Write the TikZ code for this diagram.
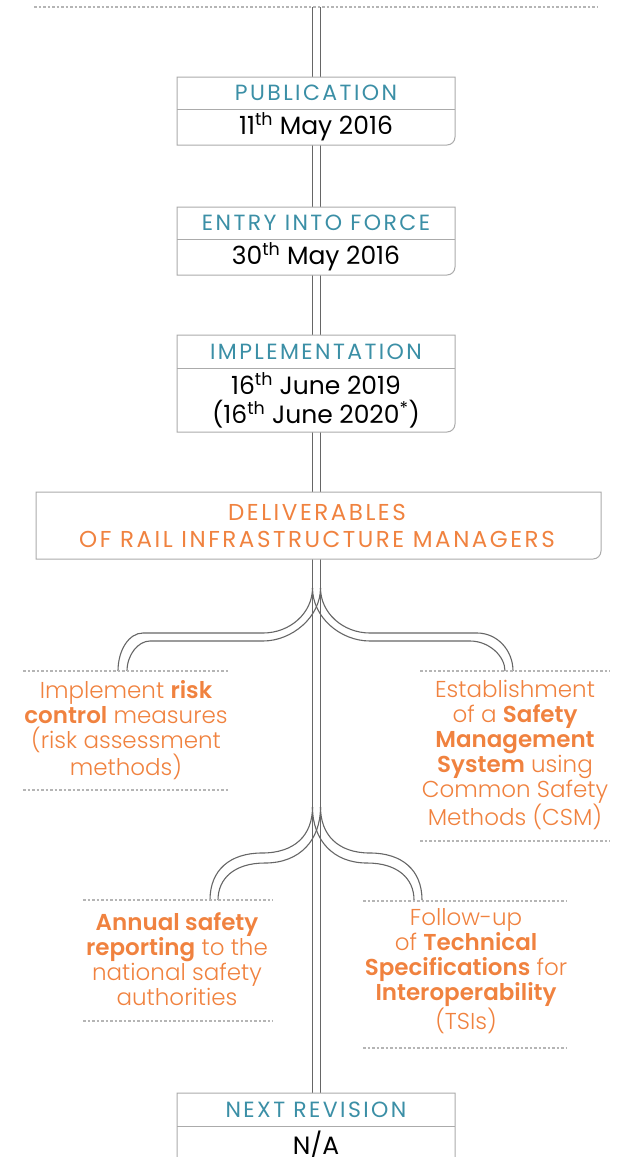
\documentclass[tikz,border=0pt]{standalone}
\usepackage{fontspec}
\setmainfont{Poppins}[UprightFont=* Light, BoldFont=* SemiBold]
\newfontfamily\regfont{Poppins}
\newfontfamily\headfont{Poppins}[LetterSpace=11]
\definecolor{hdcol}{HTML}{3B8FA6}
\definecolor{orcol}{HTML}{F0823F}
\definecolor{boxcol}{HTML}{ABABAB}
\definecolor{railcol}{HTML}{666666}
\definecolor{dashcol}{HTML}{B5B5B5}
\newcommand\tlbox[5]{%
  \filldraw[boxframe] (#1,#2) -- (#3,#2) -- (#3,#4-8) .. controls (#3,#4-3.6) and (#3-3.6,#4) .. (#3-8,#4) -- (#1,#4) -- cycle;
  \draw[boxframe] (#1,#5) -- (#3,#5);}
\tikzset{
  boxframe/.style={draw=boxcol, fill=white, line width=1pt},
  rail/.style={draw=railcol, line width=1.1pt},
  dotline/.style={draw=dashcol, line width=1.1pt, dash pattern=on 2.5pt off 2pt},
  headtxt/.style={text=hdcol, font=\headfont\fontsize{22}{25}\selectfont, inner sep=0pt},
  datetxt/.style={text=black, font=\regfont\fontsize{25}{29}\selectfont, align=center, inner sep=0pt},
  bodytxt/.style={text=orcol, font=\fontsize{23}{25}\selectfont, align=center, inner sep=0pt},
}
\begin{document}
\begin{tikzpicture}[x=1pt,y=-1pt]
\useasboundingbox (0,0) rectangle (618,1157);
\clip (0,0) rectangle (618,1157);
% top dotted line
\draw[dotline] (34,7) -- (598,7);
% main rails
\draw[rail] (312.5,7) -- (312.5,1160);
\draw[rail] (320.5,7) -- (320.5,1160);
% first branching, left
\draw[rail] (312.5,588) .. controls (312.5,613) and (290,633) .. (263,633) -- (143,633) .. controls (129,633) and (118,650) .. (118,671);
\draw[rail] (320.5,588) .. controls (320.5,617) and (292,641) .. (263,641) -- (150,641) .. controls (138,641) and (127,655) .. (127,671);
% first branching, right
\draw[rail] (320.5,588) .. controls (320.5,613) and (343,633) .. (370,633) -- (477,633) .. controls (497,633) and (513,650) .. (513,671);
\draw[rail] (312.5,588) .. controls (312.5,617) and (340,641) .. (370,641) -- (470,641) .. controls (489,641) and (505,656) .. (505,671);
% second branching, left
\draw[rail] (312.5,807) .. controls (312.5,835) and (295,853) .. (262,853) .. controls (230,853) and (210,870) .. (210,900);
\draw[rail] (320.5,807) .. controls (320.5,840) and (300,863) .. (265,863) .. controls (235,863) and (218,878) .. (218,900);
% second branching, right
\draw[rail] (320.5,807) .. controls (320.5,835) and (338,853) .. (370,853) .. controls (402,853) and (422,870) .. (422,900);
\draw[rail] (312.5,807) .. controls (312.5,840) and (333,863) .. (367,863) .. controls (397,863) and (414,878) .. (414,900);
% boxes
\tlbox{177}{77}{455}{145}{109}
\node[headtxt] (pubh) at (316,93) {PUBLICATION};
\node[datetxt] (pubd) at (316,127) {11\textsuperscript{th} May 2016};
\tlbox{177}{207}{455}{275}{239}
\node[headtxt] (enth) at (316,223) {ENTRY INTO FORCE};
\node[datetxt] (entd) at (316,257) {30\textsuperscript{th} May 2016};
\tlbox{177}{335}{455}{432}{368}
\node[headtxt] (imph) at (316,352) {IMPLEMENTATION};
\node[datetxt] (impd) at (316,400) {16\textsuperscript{th} June 2019\\(16\textsuperscript{th} June 2020\textsuperscript{*})};
\filldraw[boxframe] (36,492) -- (601,492) -- (601,551) .. controls (601,555.4) and (597.4,559) .. (593,559) -- (36,559) -- cycle;
\node[headtxt, text=orcol, align=center, font=\headfont\fontsize{23}{27}\selectfont] (deliv) at (317,526) {DELIVERABLES\\OF RAIL INFRASTRUCTURE MANAGERS};
\tlbox{177}{1093}{455}{1175}{1126}
\node[headtxt] (nexth) at (316,1110) {NEXT REVISION};
\node[datetxt] (nextd) at (316,1145) {N/A};
% deliverable blocks
\draw[dotline] (23,671) -- (228,671);
\draw[dotline] (23,790) -- (228,790);
\node[bodytxt] (risk) at (126,730) {Implement \textbf{risk}\\\textbf{control} measures\\(risk assessment\\methods)};
\draw[dotline] (420,671) -- (610,671);
\draw[dotline] (420,841) -- (610,841);
\node[bodytxt] (sms) at (515,755) {Establishment\\of a \textbf{Safety}\\\textbf{Management}\\\textbf{System} using\\Common Safety\\Methods (CSM)};
\draw[dotline] (83,900) -- (273,900);
\draw[dotline] (83,1021) -- (273,1021);
\node[bodytxt] (annual) at (177,959) {\textbf{Annual safety}\\\textbf{reporting} to the\\national safety\\authorities};
\draw[dotline] (363,901) -- (566,901);
\draw[dotline] (363,1048) -- (566,1048);
\node[bodytxt] (tsi) at (466,971) {Follow-up\\of \textbf{Technical}\\\textbf{Specifications} for\\\textbf{Interoperability}\\(TSIs)};
\end{tikzpicture}
\end{document}
